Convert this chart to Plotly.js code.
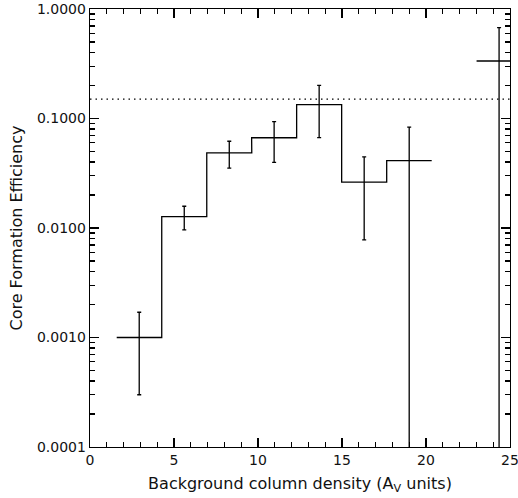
<!DOCTYPE html>
<html>
<head>
<meta charset="utf-8">
<script src="https://cdn.plot.ly/plotly-3.0.1.min.js"></script>
<style>html,body{margin:0;padding:0;background:#fff;}#chart{width:518px;height:498px;}</style>
</head>
<body>
<div id="chart"></div>
<script>
// Data
const binCenters = [2.93, 5.61, 8.29, 10.96, 13.64, 16.32, 19.0, 24.35];
const binWidth = 2.68;
const efficiency = [0.00100, 0.0127, 0.0486, 0.0667, 0.134, 0.0262, 0.0413, 0.335];
const efficiencyErr = [0.00070, 0.0031, 0.0134, 0.0270, 0.067, 0.0184, 0.0420, 0.340];
const referenceLevel = 0.15;
const yTickVals = [0.0001, 0.001, 0.01, 0.1, 1];
const yTickText = ["0.0001", "0.0010", "0.0100", "0.1000", "1.0000"];
const xTickVals = [0, 5, 10, 15, 20, 25];
const xTickText = ["0", "5", "10", "15", "20", "25"];

// Build step outline: contiguous bins, broken where a bin is empty
const stepX = [], stepY = [];
for (let i = 0; i < binCenters.length; i++) {
  const left = binCenters[i] - binWidth / 2;
  const right = binCenters[i] + binWidth / 2;
  if (i > 0 && Math.abs(left - (binCenters[i-1] + binWidth / 2)) > 0.01) {
    stepX.push(null); stepY.push(null);
  }
  stepX.push(left, right);
  stepY.push(efficiency[i], efficiency[i]);
}

const minorY = [];
for (let e = -4; e < 0; e++) for (let m = 2; m <= 9; m++) minorY.push(m * Math.pow(10, e));
const minorX = [];
for (let v = 1; v < 25; v++) if (v % 5 !== 0) minorX.push(v);

const fam = "DejaVu Sans, sans-serif";
const tickFont = {family: fam, size: 14, color: "#111"};
const titleFont = {family: fam, size: 16, color: "#111"};

const traces = [
  {x: stepX, y: stepY, mode: "lines", line: {color: "#000", width: 1.3}, hoverinfo: "skip", showlegend: false, connectgaps: false},
  {x: binCenters, y: efficiency, mode: "markers", marker: {size: 0.1, color: "rgba(0,0,0,0)"},
   error_y: {type: "data", array: efficiencyErr, symmetric: true, color: "#000", thickness: 1.3, width: 2},
   showlegend: false}
];

const axisCommon = {
  showline: true, linecolor: "#000", linewidth: 1.3, mirror: "allticks",
  ticks: "inside", tickcolor: "#000", tickwidth: 1.3, ticklen: 9,
  showgrid: false, zeroline: false, tickfont: tickFont, ticklabeloverflow: "allow"
};

const layout = {
  width: 518, height: 498,
  margin: {l: 90, r: 8, t: 9, b: 51},
  paper_bgcolor: "#fff", plot_bgcolor: "#fff",
  font: tickFont,
  xaxis: Object.assign({}, axisCommon, {
    range: [0, 25], tickmode: "array", tickvals: xTickVals, ticktext: xTickText,
    minor: {tickmode: "array", tickvals: minorX, ticks: "inside", ticklen: 5, tickcolor: "#000", tickwidth: 1.3, showgrid: false},
    title: {text: "Background column density (A<sub>V</sub> units)", font: titleFont, standoff: 10}
  }),
  yaxis: Object.assign({}, axisCommon, {
    type: "log", range: [-4, 0], tickmode: "array", tickvals: yTickVals, ticktext: yTickText,
    minor: {tickmode: "array", tickvals: minorY, ticks: "inside", ticklen: 5, tickcolor: "#000", tickwidth: 1.3, showgrid: false},
    title: {text: "Core Formation Efficiency", font: titleFont, standoff: 10}
  }),
  shapes: [{
    type: "line", xref: "x", yref: "y", x0: 0, x1: 25, y0: referenceLevel, y1: referenceLevel,
    line: {color: "#000", width: 1.3, dash: "1.5px,4px"}
  }]
};

Plotly.newPlot("chart", traces, layout, {displayModeBar: false, staticPlot: true});
</script>
</body>
</html>
